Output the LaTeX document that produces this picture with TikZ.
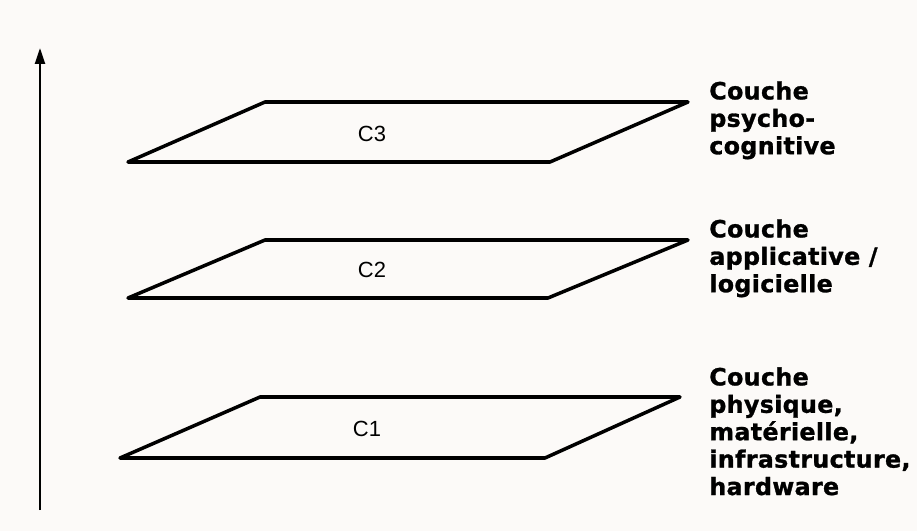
\documentclass[tikz,border=0pt]{standalone}
\usepackage{fontspec}
\newfontfamily\descfont{DejaVu Sans}[BoldFeatures={FakeBold=1.2, LetterSpace=1.5}]
\newfontfamily\tagfont{Liberation Sans}
\usetikzlibrary{arrows.meta}
\definecolor{paper}{RGB}{252,250,248}

\begin{document}
\begin{tikzpicture}[
x=0.02cm, y=-0.02cm,
layer/.style={
    draw,
    line width=2pt,
    line join=round,
    },
tag/.style={
    font=\tagfont\fontsize{12.5}{14}\selectfont,
    },
desc/.style={
    anchor=north west,
    align=left,
    inner sep=0pt,
    font=\descfont\bfseries\fontsize{13.5}{15.6}\selectfont,
    },
axis/.style={
    draw,
    line width=1.3pt,
    -{Triangle[length=0.32cm, width=0.2cm]},
    },
]
\fill[paper] (0,0) rectangle (917,531);
\useasboundingbox (0,0) rectangle (917,531);
% vertical axis
\coordinate (base) at (40,510);
\coordinate (top) at (40,48);
\draw[axis] (base) -- (top);
% layers, top to bottom
\draw[layer] (265,102) -- (688,102) -- (550,162) -- (128,162) -- cycle;
\node[tag] (c3) at (372,134) {C3};
\node[desc] (d3) at (709,81) {Couche\\psycho-\\cognitive};

\draw[layer] (265,240) -- (688,240) -- (548,298) -- (128,298) -- cycle;
\node[tag] (c2) at (372,270) {C2};
\node[desc] (d2) at (709,219) {Couche\\applicative /\\logicielle};

\draw[layer] (260,397) -- (680,397) -- (545,458) -- (120,458) -- cycle;
\node[tag] (c1) at (367,429) {C1};
\node[desc] (d1) at (709,367) {Couche\\physique,\\mat\'erielle,\\infrastructure,\\hardware};
\end{tikzpicture}
\end{document}
